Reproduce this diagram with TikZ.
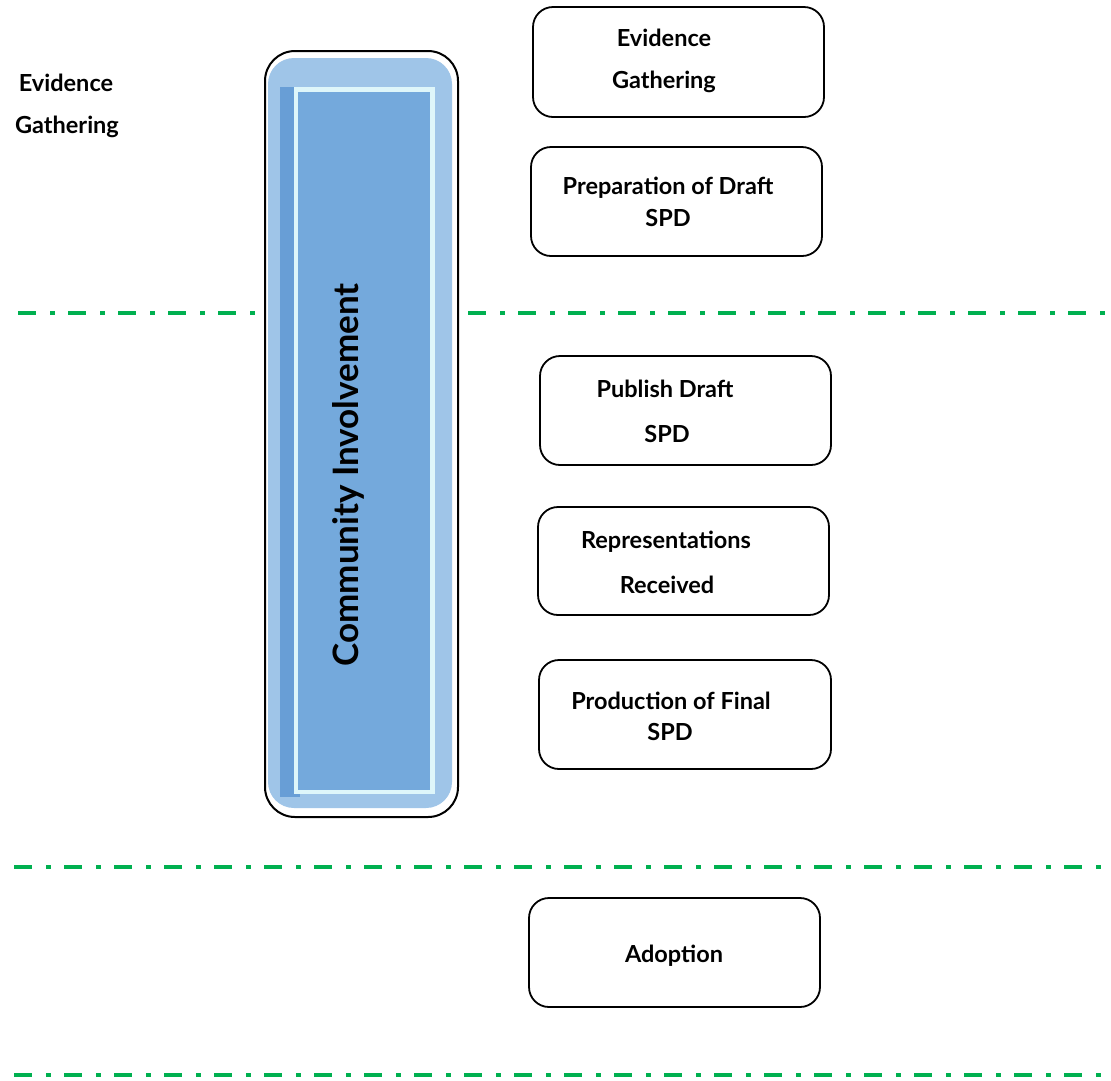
\documentclass[tikz,border=0pt]{standalone}
\usepackage{fontspec}
\setmainfont{Lato}
\definecolor{barlight}{RGB}{159,197,232}
\definecolor{barmid}{RGB}{116,169,220}
\definecolor{bardark}{RGB}{104,158,214}
\definecolor{barcyan}{RGB}{222,246,250}
\definecolor{dashgreen}{RGB}{0,176,80}
\begin{document}
\begin{tikzpicture}[x=1pt,y=-1pt,
  stagebox/.style={draw=black,line width=1.8pt,rounded corners=20pt,fill=white},
  lbl/.style={font=\fontsize{23.5}{26}\selectfont\bfseries,inner sep=0pt,anchor=center},
  sepline/.style={draw=dashgreen,line width=4.5pt,dash pattern=on 18pt off 14pt on 5pt off 13pt}]
\useasboundingbox (0,0) rectangle (1111,1080);
% separator lines
\coordinate (l1a) at (18,313); \coordinate (l1b) at (1111,313);
\coordinate (l2a) at (14,867); \coordinate (l2b) at (1111,867);
\coordinate (l3a) at (14,1075); \coordinate (l3b) at (1111,1075);
\draw[sepline] (l1a) -- (l1b);
\draw[sepline] (l2a) -- (l2b);
\draw[sepline] (l3a) -- (l3b);
% community involvement bar
\draw[line width=2pt,rounded corners=30pt,fill=white] (265,51) rectangle (458,817);
\fill[barlight,rounded corners=26pt] (268,58) rectangle (452,808);
\fill[bardark] (280,87) rectangle (300,797);
\fill[barcyan] (294,87) rectangle (435,794);
\fill[barmid] (298,92) rectangle (430,790);
\node[rotate=90,font=\fontsize{35}{38}\selectfont\bfseries,inner sep=0pt] (ci) at (348,475) {Community Involvement};
% left label
\node[lbl] (leg1) at (66,83) {Evidence};
\node[lbl] (leg2) at (67,127) {Gathering};
% stage boxes
\draw[stagebox] (533,7) rectangle (824,117);
\node[lbl] (b1a) at (664,38) {Evidence};
\node[lbl] (b1b) at (664,82) {Gathering};
\draw[stagebox] (531,147) rectangle (822,256);
\node[lbl] (b2a) at (668,188) {Preparation of Draft};
\node[lbl] (b2b) at (668,218) {SPD};
\draw[stagebox] (540,356) rectangle (831,465);
\node[lbl] (b3a) at (665,389) {Publish Draft};
\node[lbl] (b3b) at (667,434) {SPD};
\draw[stagebox] (538,507) rectangle (829,615);
\node[lbl] (b4a) at (666,542) {Representations};
\node[lbl] (b4b) at (667,585) {Received};
\draw[stagebox] (539,660) rectangle (831,769);
\node[lbl] (b5a) at (671,701) {Production of Final};
\node[lbl] (b5b) at (670,732) {SPD};
\draw[stagebox] (529,898) rectangle (820,1007);
\node[lbl] (b6) at (674,956) {Adoption};
\end{tikzpicture}
\end{document}
